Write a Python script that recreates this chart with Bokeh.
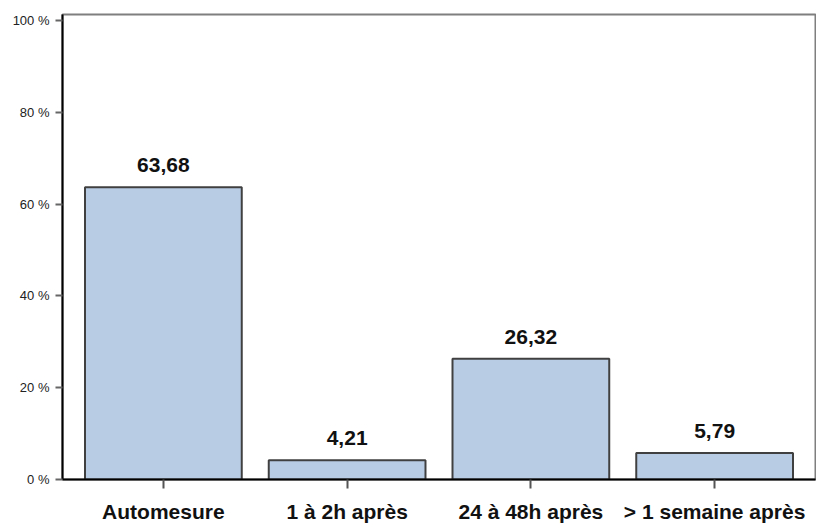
from bokeh.plotting import figure
from bokeh.models import ColumnDataSource, Range1d, FixedTicker
from bokeh.core.properties import value
from bokeh.embed import file_html
from bokeh.resources import INLINE

categories = ["Automesure", "1 à 2h après", "24 à 48h après", "> 1 semaine après"]
values = [63.68, 4.21, 26.32, 5.79]
y_ticks = [0, 20, 40, 60, 80, 100]
y_tick_labels = ["0 %", "20 %", "40 %", "60 %", "80 %", "100 %"]

xs = list(range(len(categories)))
labels = [f"{v:.2f}".replace(".", ",") for v in values]
src = ColumnDataSource(dict(x=xs, top=values, label=labels))

p = figure(width=816, height=525, output_backend="svg", toolbar_location=None,
           x_range=Range1d(-0.549, len(categories) - 1 + 0.549),
           y_range=Range1d(0, 101.3),
           min_border_left=62, min_border_right=1, min_border_top=14, min_border_bottom=43)

p.vbar(x="x", top="top", bottom=0, width=0.853, source=src,
       fill_color="#b8cce4", line_color="#404040", line_width=2)

p.text(x="x", y="top", text="label", source=src, text_align="center",
       text_baseline="alphabetic", y_offset=-22,
       text_font=value("Liberation Sans"), text_font_style="bold",
       text_font_size="21px", text_color="#111111")

p.xgrid.visible = False
p.ygrid.visible = False
p.background_fill_color = "white"
p.border_fill_color = "white"
p.outline_line_color = "#7f7f7f"
p.outline_line_width = 2

xa = p.xaxis[0]
xa.ticker = FixedTicker(ticks=xs)
xa.major_label_overrides = {i: c for i, c in zip(xs, categories)}
xa.axis_line_color = "black"
xa.axis_line_width = 2
xa.major_tick_line_color = "#555555"
xa.major_tick_line_width = 2
xa.major_tick_out = 9
xa.major_tick_in = 0
xa.minor_tick_line_color = None
xa.major_label_standoff = 11
xa.major_label_text_font = "Liberation Sans"
xa.major_label_text_font_style = "bold"
xa.major_label_text_font_size = "21px"
xa.major_label_text_color = "#111111"

ya = p.yaxis[0]
ya.ticker = FixedTicker(ticks=y_ticks)
ya.major_label_overrides = {t: l for t, l in zip(y_ticks, y_tick_labels)}
ya.axis_line_color = "black"
ya.axis_line_width = 2
ya.major_tick_line_color = "#666666"
ya.major_tick_line_width = 2
ya.major_tick_out = 7
ya.major_tick_in = 0
ya.minor_tick_line_color = None
ya.major_label_standoff = 6
ya.major_label_text_font = "Liberation Sans"
ya.major_label_text_font_size = "13px"
ya.major_label_text_color = "#222222"

open("out.html", "w").write(file_html(p, INLINE))
